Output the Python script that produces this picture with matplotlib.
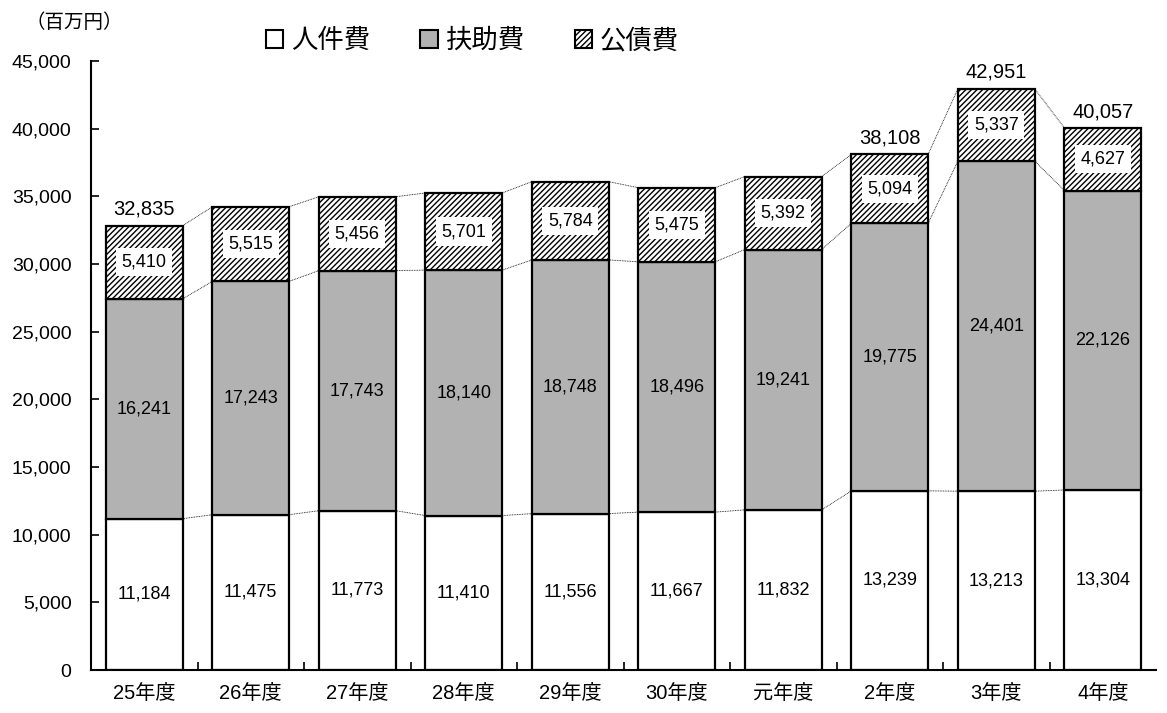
# 人件費・扶助費・公債費の推移 (stacked bars)
import numpy as np
import matplotlib.pyplot as plt
from matplotlib.patches import Patch

plt.rcParams['font.family'] = ['Liberation Sans', 'Noto Sans CJK JP']
plt.rcParams['hatch.linewidth'] = 1.0

years = ['25年度', '26年度', '27年度', '28年度', '29年度',
         '30年度', '元年度', '2年度', '3年度', '4年度']
jinken = [11184, 11475, 11773, 11410, 11556, 11667, 11832, 13239, 13213, 13304]
fujo = [16241, 17243, 17743, 18140, 18748, 18496, 19241, 19775, 24401, 22126]
kousai = [5410, 5515, 5456, 5701, 5784, 5475, 5392, 5094, 5337, 4627]
totals = [32835, 34233, 34972, 35251, 36088, 35638, 36465, 38108, 42951, 40057]
show_total = [True, False, False, False, False, False, False, True, True, True]

x = np.arange(len(years))
w = 0.72
jinken = np.array(jinken)
fujo = np.array(fujo)
kousai = np.array(kousai)

fig = plt.figure(figsize=(11.67, 7.13), dpi=100)
ax = fig.add_axes([0.078, 0.0603, 0.9126, 0.8541])

ax.bar(x, jinken, w, color='white', edgecolor='black', linewidth=1.6, zorder=2)
ax.bar(x, fujo, w, bottom=jinken, color='#b2b2b2', edgecolor='black',
       linewidth=1.6, zorder=2)
ax.bar(x, kousai, w, bottom=jinken + fujo, color='white', edgecolor='black',
       hatch='//////', linewidth=1.6, zorder=2)

# thin connector lines between bars
levels = [jinken, jinken + fujo, jinken + fujo + kousai]
for lv in levels:
    for i in range(len(x) - 1):
        ax.plot([x[i] + w / 2, x[i + 1] - w / 2], [lv[i], lv[i + 1]],
                color='black', linewidth=0.6, linestyle=(0, (1, 1)), zorder=1)

for i in range(len(x)):
    ax.text(x[i], jinken[i] / 2, f'{jinken[i]:,}', ha='center', va='center',
            fontsize=13, zorder=3)
    ax.text(x[i], jinken[i] + fujo[i] / 2, f'{fujo[i]:,}', ha='center',
            va='center', fontsize=13, zorder=3)
    ax.text(x[i], jinken[i] + fujo[i] + kousai[i] / 2, f'{kousai[i]:,}',
            ha='center', va='center', fontsize=13, zorder=3,
            bbox=dict(facecolor='white', edgecolor='none', pad=4))
    if show_total[i]:
        ax.text(x[i], totals[i] + 500, f'{totals[i]:,}', ha='center',
                va='bottom', fontsize=14.5)

ax.set_xlim(-0.5, len(x) - 0.5)
ax.set_ylim(0, 45000)
ax.set_yticks(np.arange(0, 45001, 5000))
ax.set_yticklabels([f'{v:,}' for v in range(0, 45001, 5000)], fontsize=14)
ax.yaxis.set_tick_params(direction='in', length=6, width=1.2, pad=14)
ax.set_xticks(x)
ax.set_xticklabels(years, fontsize=14.5)
ax.xaxis.set_tick_params(length=0, pad=10)
ax.set_xticks(x[:-1] + 0.5, minor=True)
ax.xaxis.set_tick_params(which='minor', direction='in', length=6, width=1.2)
for s in ['top', 'right']:
    ax.spines[s].set_visible(False)
for s in ['left', 'bottom']:
    ax.spines[s].set_linewidth(1.5)

fig.text(0.022, 0.968, '（百万円）', fontsize=14, va='center',
         family=['Noto Sans CJK JP'])

handles = [Patch(facecolor='white', edgecolor='black', linewidth=1.5),
           Patch(facecolor='#b2b2b2', edgecolor='black', linewidth=1.5),
           Patch(facecolor='white', edgecolor='black', hatch='//////', linewidth=1.5)]
fig.legend(handles, ['人件費', '扶助費', '公債費'], ncol=3, frameon=False,
           loc='center left', bbox_to_anchor=(0.228, 0.943), fontsize=19,
           handlelength=0.65, handleheight=0.65, handletextpad=0.3,
           columnspacing=1.9, borderpad=0, borderaxespad=0)

fig.savefig('out.png', dpi=100)
